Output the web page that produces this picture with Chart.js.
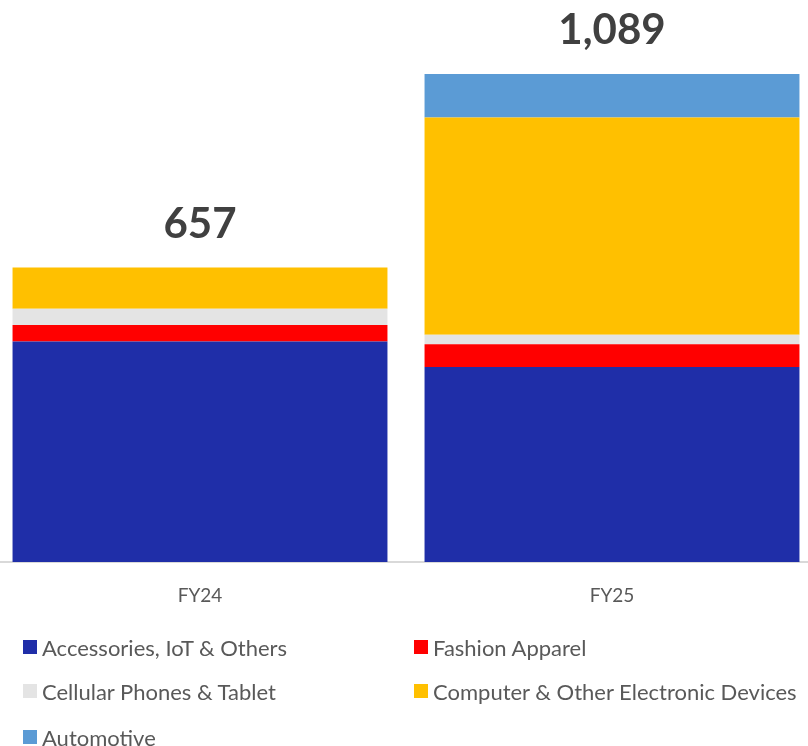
<!DOCTYPE html>
<html>
<head>
<meta charset="utf-8">
<script src="https://cdn.jsdelivr.net/npm/chart.js@4"></script>
<style>
  html, body { margin: 0; padding: 0; background: #ffffff; overflow: hidden; }
  body { width: 808px; height: 746px; position: relative; font-family: Lato, "Open Sans", sans-serif; }
  #wrap { position: absolute; left: -6px; top: 0; width: 824px; height: 610px; }
  #legend { position: absolute; left: 0; top: 0; width: 808px; height: 746px; pointer-events: none; }
  .item { position: absolute; display: flex; align-items: center; font-size: 22px; color: #595959; white-space: nowrap; height: 26px; }
  .box { width: 14px; height: 14px; margin-right: 5px; flex: none; }
</style>
</head>
<body>
<div id="wrap"><canvas id="c"></canvas></div>
<div id="legend"></div>
<script>
const categories = ["FY24", "FY25"];
const seriesNames = ["Accessories, IoT & Others", "Fashion Apparel", "Cellular Phones & Tablet", "Computer & Other Electronic Devices", "Automotive"];
const accessories = [492, 435];
const fashion = [37, 51];
const cellular = [36, 21];
const computer = [92, 485];
const automotive = [0, 97];
const colors = ["#1F2EA8", "#FF0000", "#E4E4E4", "#FFC000", "#5B9BD5"];

const seriesValues = [accessories, fashion, cellular, computer, automotive];
const totals = categories.map((_, i) => seriesValues.reduce((s, arr) => s + arr[i], 0));

const totalLabels = {
  id: 'totalLabels',
  afterDatasetsDraw(chart) {
    const ctx = chart.ctx;
    const y = chart.scales.y, x = chart.scales.x;
    ctx.save();
    ctx.font = 'bold 42px Lato, "Open Sans", sans-serif';
    ctx.fillStyle = '#404040';
    ctx.textAlign = 'center';
    ctx.textBaseline = 'alphabetic';
    totals.forEach((t, i) => {
      const px = x.getPixelForValue(i);
      const py = y.getPixelForValue(t) - 30;
      ctx.fillText(t.toLocaleString('en-US'), px, py);
    });
    ctx.restore();
  }
};

new Chart(document.getElementById('c'), {
  type: 'bar',
  data: {
    labels: categories,
    datasets: seriesNames.map((n, k) => ({
      label: n,
      data: seriesValues[k],
      backgroundColor: colors[k],
      borderWidth: 0,
      categoryPercentage: 1.0,
      barPercentage: 0.91
    }))
  },
  options: {
    responsive: true,
    maintainAspectRatio: false,
    animation: false,
    layout: { padding: 0 },
    plugins: { legend: { display: false }, tooltip: { enabled: false } },
    scales: {
      x: {
        stacked: true,
        grid: { display: false, drawTicks: false },
        border: { display: true, color: '#D9D9D9', width: 2 },
        ticks: { color: '#595959', font: { family: 'Lato', size: 19 }, padding: 22 },
        afterFit(scale) { scale.height = 48; }
      },
      y: {
        stacked: true,
        display: false,
        min: 0,
        max: 1254
      }
    }
  },
  plugins: [totalLabels]
});

// Legend (HTML), generated from series arrays
const legend = document.getElementById('legend');
const positions = [[23, 647], [414, 647], [23, 691], [414, 691], [23, 737]];
seriesNames.forEach((n, k) => {
  const d = document.createElement('div');
  d.className = 'item';
  d.style.left = positions[k][0] + 'px';
  d.style.top = (positions[k][1] - 13) + 'px';
  const b = document.createElement('span');
  b.className = 'box';
  b.style.background = colors[k];
  const t = document.createElement('span');
  t.textContent = n;
  d.appendChild(b); d.appendChild(t);
  legend.appendChild(d);
});
</script>
</body>
</html>
